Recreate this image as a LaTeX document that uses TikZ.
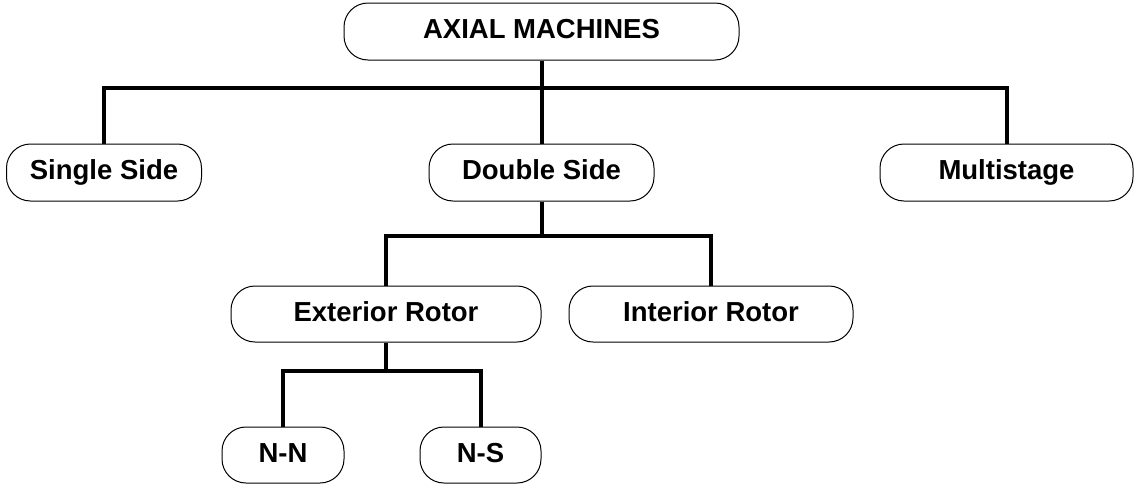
\documentclass[tikz,border=0pt]{standalone}
\usepackage{fontspec}
\setmainfont{Liberation Sans}
\begin{document}
\begin{tikzpicture}[x=1pt,y=1pt,
  box/.style={draw=black, line width=1pt, rounded corners=24pt, fill=white,
    minimum height=57pt, inner sep=0pt, text height=21.5pt, text depth=7.5pt,
    font=\fontsize{27.5}{30}\selectfont\bfseries},
  conn/.style={line width=4pt, line join=miter}]
\useasboundingbox[fill=white] (0,0) rectangle (1138,-485);
\node[box, minimum width=395pt] (top) at (541.5,-31.5) {AXIAL MACHINES};
\node[box, minimum width=195pt] (single) at (104,-172.5) {Single Side};
\node[box, minimum width=225pt] (dbl) at (541.5,-172.5) {Double Side};
\node[box, minimum width=253pt] (multi) at (1006.5,-172.5) {Multistage};
\node[box, minimum width=310pt, minimum height=56pt] (ext) at (386,-314) {Exterior Rotor};
\node[box, minimum width=284pt, minimum height=56pt] (int) at (711,-314) {Interior Rotor};
\node[box, minimum width=122pt, minimum height=56pt] (nn) at (283,-455) {N-N};
\node[box, minimum width=121pt, minimum height=56pt] (ns) at (480.5,-455) {N-S};
\coordinate (b1) at (0,-88);
\coordinate (b2) at (0,-236);
\coordinate (b3) at (0,-371);
\draw[conn] (top.south) -- (dbl.north);
\draw[conn] (single.north) -- (single.north |- b1) -- (multi.north |- b1) -- (multi.north);
\draw[conn] (dbl.south) -- (dbl.south |- b2);
\draw[conn] (ext.north) -- (ext.north |- b2) -- (int.north |- b2) -- (int.north);
\draw[conn] (ext.south) -- (ext.south |- b3);
\draw[conn] (nn.north) -- (nn.north |- b3) -- (ns.north |- b3) -- (ns.north);
\end{tikzpicture}
\end{document}
